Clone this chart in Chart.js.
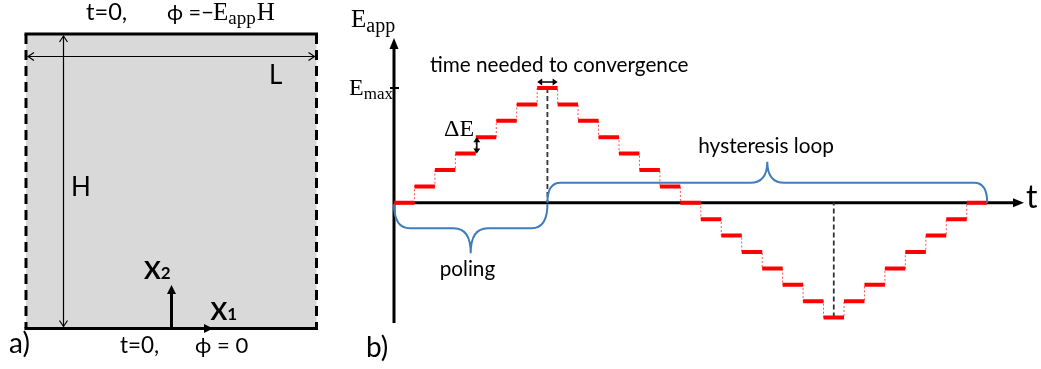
<!DOCTYPE html>
<html>
<head>
<meta charset="utf-8">
<script src="https://cdn.jsdelivr.net/npm/chart.js@4.4.1/dist/chart.umd.min.js"></script>
<style>
  html, body { margin: 0; padding: 0; background: #fff; overflow: hidden; }
  canvas { display: block; }
</style>
</head>
<body>
<canvas id="fig" width="1041" height="369"></canvas>
<script>
// applied field level for each time step, in units of dE
const stepLevels = [0, 1, 2, 3, 4, 5, 6, 7, 6, 5, 4, 3, 2, 1, 0,
                    -1, -2, -3, -4, -5, -6, -7, -6, -5, -4, -3, -2, -1, 0];
const maxLevel = 7;
// dashed markers sit in the middle of the peak and trough steps
const markerTimes = [7.5, 21.5];
const markerLevels = [7, -7];
// braces under / over the time axis
const braceNames = ['poling', 'hysteresis loop'];
const braceFrom = [0, 7.5];
const braceTo = [7.5, 29];

const SANS = 'Lato, "Open Sans", sans-serif';
const SERIF = '"Liberation Serif", "DejaVu Serif", serif';
const BLUE = '#3f7dbd';

// thick bars: one flat piece per step, broken by null points
const barPoints = [];
stepLevels.forEach((v, i) => {
    barPoints.push({x: i, y: v}, {x: i + 1, y: v}, {x: i + 1, y: null});
});
// thin dotted staircase that joins the bars
const stepPoints = stepLevels.map((v, i) => ({x: i, y: v}));
stepPoints.push({x: stepLevels.length, y: stepLevels[stepLevels.length - 1]});

function seg(ctx, x1, y1, x2, y2) {
    ctx.beginPath();
    ctx.moveTo(x1, y1);
    ctx.lineTo(x2, y2);
    ctx.stroke();
}

// filled arrow head, tip at (x, y), pointing along (dx, dy)
function head(ctx, x, y, dx, dy, len, half) {
    const px = -dy, py = dx;
    ctx.beginPath();
    ctx.moveTo(x, y);
    ctx.lineTo(x - dx * len + px * half, y - dy * len + py * half);
    ctx.lineTo(x - dx * len - px * half, y - dy * len - py * half);
    ctx.closePath();
    ctx.fill();
}

// open (V shaped) arrow head
function vhead(ctx, x, y, dx, dy, len, half) {
    const px = -dy, py = dx;
    ctx.beginPath();
    ctx.moveTo(x - dx * len + px * half, y - dy * len + py * half);
    ctx.lineTo(x, y);
    ctx.lineTo(x - dx * len - px * half, y - dy * len - py * half);
    ctx.stroke();
}

// text squeezed so its ink runs from x0 to x1
function fitText(ctx, txt, x0, x1, baseline, family, weight) {
    weight = weight || 'normal';
    ctx.textAlign = 'left';
    ctx.textBaseline = 'alphabetic';
    ctx.font = weight + ' 40px ' + family;
    let m = ctx.measureText(txt);
    const ink = m.actualBoundingBoxLeft + m.actualBoundingBoxRight;
    const size = 40 * (x1 - x0) / ink;
    ctx.font = weight + ' ' + size.toFixed(2) + 'px ' + family;
    m = ctx.measureText(txt);
    ctx.fillText(txt, x0 + m.actualBoundingBoxLeft, baseline);
}

function plainText(ctx, txt, x, baseline, size, family, weight) {
    ctx.textAlign = 'left';
    ctx.textBaseline = 'alphabetic';
    ctx.font = (weight || 'normal') + ' ' + size + 'px ' + family;
    ctx.fillText(txt, x, baseline);
}

function subText(ctx, x, baseline, main, sub, size, subSize, drop, family, weight) {
    weight = weight || 'normal';
    ctx.textAlign = 'left';
    ctx.textBaseline = 'alphabetic';
    ctx.font = weight + ' ' + size + 'px ' + family;
    ctx.fillText(main, x, baseline);
    const w = ctx.measureText(main).width;
    ctx.font = weight + ' ' + subSize + 'px ' + family;
    ctx.fillText(sub, x + w, baseline + drop);
    return x + w + ctx.measureText(sub).width;
}

function brace(ctx, x1, x2, y0, h, c, r, r2, s) {
    const xm = (x1 + x2) / 2, yh = y0 + s * h, yc = y0 + s * (h + c);
    ctx.beginPath();
    ctx.moveTo(x1, y0);
    ctx.quadraticCurveTo(x1, yh, x1 + r, yh);
    ctx.lineTo(xm - r2, yh);
    ctx.quadraticCurveTo(xm, yh, xm, yc);
    ctx.quadraticCurveTo(xm, yh, xm + r2, yh);
    ctx.lineTo(x2 - r, yh);
    ctx.quadraticCurveTo(x2, yh, x2, y0);
    ctx.stroke();
}

// panel a): the simulated box with its boundary conditions
function drawPanelA(ctx) {
    const L = 26, R = 316.5, T = 34, B = 328.5;
    ctx.fillStyle = '#d9d9d9';
    ctx.fillRect(L, T, R - L, B - T);
    ctx.strokeStyle = '#000';
    ctx.fillStyle = '#000';
    ctx.lineWidth = 3;
    seg(ctx, L - 1.5, T, R + 1.5, T);
    seg(ctx, L - 1.5, B, R + 1.5, B);
    ctx.setLineDash([10, 6]);
    seg(ctx, L, T, L, B);
    seg(ctx, R, T, R, B);
    ctx.setLineDash([]);

    ctx.lineWidth = 1.2;
    seg(ctx, 63.5, T + 2, 63.5, B - 2);
    vhead(ctx, 63.5, T + 2, 0, -1, 6, 4);
    vhead(ctx, 63.5, B - 2, 0, 1, 6, 4);
    seg(ctx, L + 2, 56.5, R - 2, 56.5);
    vhead(ctx, L + 2, 56.5, -1, 0, 6, 4);
    vhead(ctx, R - 2, 56.5, 1, 0, 6, 4);

    ctx.lineWidth = 3;
    seg(ctx, 171.5, B, 171.5, 292);
    head(ctx, 171.5, 285, 0, -1, 9, 4.5);
    seg(ctx, 171.5, B, 206, B);
    head(ctx, 213, B, 1, 0, 9, 4.5);

    plainText(ctx, 'L', 269, 84, 26, SANS);
    plainText(ctx, 'H', 71, 196, 26, SANS);
    subText(ctx, 144, 279, 'X', '2', 25, 17, 0, SANS, 'bold');
    subText(ctx, 210.5, 320, 'X', '1', 25, 17, 0, SANS, 'bold');

    fitText(ctx, 't=0,', 86, 126, 20, SANS);
    fitText(ctx, '\u03D5 =\u2212', 167, 212, 20, SANS);
    const e = subText(ctx, 213, 20, 'E', 'app', 25, 19, 4, SERIF);
    ctx.font = '25px ' + SERIF;
    ctx.fillText('H', e + 1, 20);

    fitText(ctx, 't=0,', 120, 158, 353, SANS);
    fitText(ctx, '\u03D5 = 0', 195, 247, 353, SANS);
    plainText(ctx, 'a)', 9, 353, 28, SANS);
}

const figurePlugin = {
    id: 'figure',
    beforeDatasetsDraw(chart) {
        const ctx = chart.ctx;
        const xs = chart.scales.x, ys = chart.scales.y, area = chart.chartArea;
        ctx.save();
        drawPanelA(ctx);

        // axes crossing at the origin
        const x0 = xs.getPixelForValue(0), y0 = ys.getPixelForValue(0);
        ctx.strokeStyle = '#000';
        ctx.fillStyle = '#000';
        ctx.lineWidth = 3;
        seg(ctx, x0, area.bottom, x0, area.top + 8);
        head(ctx, x0, area.top, 0, -1, 11, 4.5);
        seg(ctx, x0, y0, area.right - 8, y0);
        head(ctx, area.right, y0, 1, 0, 11, 4.5);

        // E_max tick
        const yMax = ys.getPixelForValue(maxLevel);
        ctx.lineWidth = 2;
        seg(ctx, x0 - 4, yMax, x0 + 5, yMax);

        // dashed markers at the peak and trough
        ctx.strokeStyle = '#333';
        ctx.lineWidth = 1.8;
        ctx.setLineDash([5, 3]);
        markerTimes.forEach((t, i) => {
            const x = xs.getPixelForValue(t);
            seg(ctx, x, ys.getPixelForValue(markerLevels[i]), x, y0);
        });
        ctx.setLineDash([]);
        ctx.restore();
    },
    afterDatasetsDraw(chart) {
        const ctx = chart.ctx;
        const xs = chart.scales.x, ys = chart.scales.y;
        const y0 = ys.getPixelForValue(0);
        ctx.save();

        // braces
        ctx.strokeStyle = BLUE;
        ctx.lineWidth = 2;
        const px = braceFrom.map(v => xs.getPixelForValue(v));
        const qx = braceTo.map(v => xs.getPixelForValue(v));
        brace(ctx, px[0], qx[0], y0 + 1.5, 24, 25, 16, 17, 1);
        brace(ctx, px[1], qx[1], y0, 20, 21, 13, 17, -1);

        ctx.fillStyle = '#000';
        const m0 = (px[0] + qx[0]) / 2, m1 = (px[1] + qx[1]) / 2;
        fitText(ctx, braceNames[0], m0 - 30, m0 + 24, 276, SANS);
        fitText(ctx, braceNames[1], m1 - 68, m1 + 66, 153, SANS);

        // double arrows: convergence time and field step
        ctx.strokeStyle = '#000';
        ctx.lineWidth = 1.5;
        const ya = ys.getPixelForValue(maxLevel) - 6;
        const xa = xs.getPixelForValue(maxLevel), xb = xs.getPixelForValue(maxLevel + 1);
        seg(ctx, xa + 4, ya, xb - 4, ya);
        head(ctx, xa, ya, -1, 0, 5, 3.5);
        head(ctx, xb, ya, 1, 0, 5, 3.5);
        const xd = xs.getPixelForValue(4) + 1;
        const yd1 = ys.getPixelForValue(4), yd2 = ys.getPixelForValue(3);
        seg(ctx, xd, yd1 + 4, xd, yd2 - 4);
        head(ctx, xd, yd1, 0, -1, 5, 3.5);
        head(ctx, xd, yd2, 0, 1, 5, 3.5);

        // labels
        fitText(ctx, 'time needed to convergence', 430, 688, 72, SANS);
        plainText(ctx, 't', 1026, 208, 32, SANS);
        plainText(ctx, 'b)', 366, 357, 28, SANS);
        plainText(ctx, '\u0394E', 444, 136, 24, SERIF);
        subText(ctx, 351, 27, 'E', 'app', 25, 20, 5, SERIF);
        subText(ctx, 349, 95, 'E', 'max', 24, 17, 4, SERIF);
        ctx.restore();
    }
};

new Chart(document.getElementById('fig'), {
    type: 'line',
    data: {
        datasets: [{
            data: barPoints,
            borderColor: '#ff0000',
            borderWidth: 4,
            borderCapStyle: 'butt',
            pointRadius: 0,
            spanGaps: false
        }, {
            data: stepPoints,
            stepped: true,
            borderColor: 'rgba(255, 40, 40, 0.8)',
            borderWidth: 1,
            borderDash: [2, 2],
            pointRadius: 0
        }]
    },
    options: {
        responsive: false,
        animation: false,
        devicePixelRatio: 1,
        layout: { padding: { left: 394, right: 17, top: 38, bottom: 46 } },
        plugins: { legend: { display: false }, tooltip: { enabled: false } },
        scales: {
            x: { type: 'linear', display: false, min: 0, max: 30.8 },
            y: { type: 'linear', display: false, min: -7.33, max: 10.05 }
        }
    },
    plugins: [figurePlugin]
});
</script>
</body>
</html>
